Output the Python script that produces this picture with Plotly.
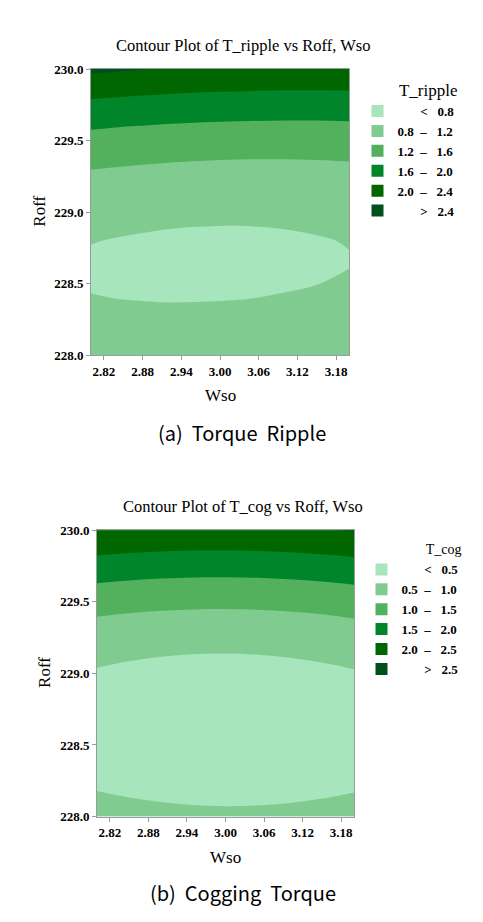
"""Contour plots of T_ripple and T_cog vs Roff, Wso (response surface)."""
import plotly.graph_objects as go

# Wso grid (x) shared by both panels
WSO = [2.80, 2.85, 2.90, 2.95, 3.00, 3.05, 3.10, 3.15, 3.20]

# (a) Torque Ripple: Roff rows, T_ripple values
ROFF_A = [228.0, 228.2, 228.3, 228.4, 228.5, 228.6, 228.7, 228.8, 228.9,
          229.0, 229.2, 229.4, 229.6, 229.8, 230.0]
T_RIPPLE = [
    [1.0888, 1.0818, 1.0805, 1.0851, 1.0954, 1.1114, 1.1333, 1.1609, 1.1943],
    [0.9140, 0.9036, 0.8991, 0.9004, 0.9074, 0.9203, 0.9388, 0.9632, 0.9934],
    [0.8526, 0.8407, 0.8345, 0.8342, 0.8396, 0.8508, 0.8677, 0.8905, 0.9190],
    [0.8087, 0.7951, 0.7873, 0.7853, 0.7891, 0.7987, 0.8140, 0.8351, 0.8620],
    [0.7821, 0.7670, 0.7575, 0.7539, 0.7561, 0.7640, 0.7777, 0.7972, 0.8224],
    [0.7730, 0.7562, 0.7451, 0.7399, 0.7404, 0.7467, 0.7588, 0.7766, 0.8002],
    [0.7813, 0.7628, 0.7501, 0.7433, 0.7421, 0.7468, 0.7572, 0.7734, 0.7954],
    [0.8069, 0.7869, 0.7725, 0.7640, 0.7613, 0.7643, 0.7731, 0.7877, 0.8081],
    [0.8500, 0.8283, 0.8124, 0.8022, 0.7978, 0.7992, 0.8064, 0.8193, 0.8381],
    [0.9105, 0.8871, 0.8696, 0.8578, 0.8518, 0.8515, 0.8571, 0.8684, 0.8855],
    [1.0836, 1.0570, 1.0362, 1.0211, 1.0118, 1.0083, 1.0106, 1.0187, 1.0325],
    [1.3263, 1.2965, 1.2724, 1.2541, 1.2415, 1.2348, 1.2338, 1.2386, 1.2492],
    [1.6387, 1.6055, 1.5782, 1.5566, 1.5408, 1.5308, 1.5265, 1.5281, 1.5354],
    [2.0206, 1.9842, 1.9536, 1.9287, 1.9097, 1.8964, 1.8889, 1.8872, 1.8912],
    [2.4721, 2.4325, 2.3986, 2.3705, 2.3482, 2.3316, 2.3208, 2.3159, 2.3166],
]
LEVELS_A = [0.8, 2.4, 0.4]

# (b) Cogging Torque
ROFF_B = [228.0, 228.2, 228.4, 228.6, 228.8, 229.0, 229.2, 229.4, 229.6,
          229.8, 230.0]
T_COG = [
    [0.7138, 0.6592, 0.6195, 0.5949, 0.5853, 0.5907, 0.6111, 0.6464, 0.6968],
    [0.4746, 0.4207, 0.3817, 0.3578, 0.3489, 0.3550, 0.3761, 0.4121, 0.4632],
    [0.3291, 0.2759, 0.2376, 0.2144, 0.2062, 0.2130, 0.2348, 0.2715, 0.3233],
    [0.2770, 0.2245, 0.1870, 0.1645, 0.1570, 0.1645, 0.1870, 0.2245, 0.2770],
    [0.3188, 0.2670, 0.2301, 0.2083, 0.2015, 0.2097, 0.2329, 0.2710, 0.3242],
    [0.4541, 0.4030, 0.3668, 0.3457, 0.3396, 0.3485, 0.3724, 0.4112, 0.4651],
    [0.6829, 0.6325, 0.5970, 0.5766, 0.5712, 0.5808, 0.6054, 0.6449, 0.6995],
    [1.0054, 0.9557, 0.9209, 0.9012, 0.8965, 0.9068, 0.9321, 0.9723, 1.0276],
    [1.4214, 1.3724, 1.3383, 1.3193, 1.3153, 1.3263, 1.3523, 1.3932, 1.4492],
    [1.9311, 1.8828, 1.8494, 1.8311, 1.8278, 1.8395, 1.8662, 1.9078, 1.9645],
    [2.4960, 2.4528, 2.4202, 2.4026, 2.4000, 2.4124, 2.4398, 2.4822, 2.5250],
]
LEVELS_B = [0.5, 2.5, 0.5]

# light -> dark green bands (Minitab style)
GREENS = ["#a7e5bc", "#80cc90", "#53b05d", "#00852a", "#006600", "#004f1c"]

SERIF = "Liberation Serif"
# page body keeps its default 8px margin -> figure sized to fit the window
OFF = 8
W, H = 483 - 2 * OFF, 922 - 2 * OFF


def fx(px):
    return (px - OFF) / W


def fy(py):
    return 1 - (py - OFF) / H


def band_labels(levels):
    """Minitab-like legend labels: '< a', 'a – b', ..., '> z'."""
    start, end, size = levels
    n = int(round((end - start) / size))
    cuts = [start + i * size for i in range(n + 1)]
    nb = "\u00a0"
    pad = nb * 7
    labels = [f"{pad}<{nb * 3}{cuts[0]:.1f}"]
    for lo, hi in zip(cuts[:-1], cuts[1:]):
        labels.append(f"{lo:.1f}{nb * 2}–{nb * 3}{hi:.1f}")
    labels.append(f"{pad}>{nb * 3}{cuts[-1]:.1f}")
    return labels


def _stepped_scale(colors):
    n = len(colors)
    scale = []
    for i, c in enumerate(colors):
        scale.append([i / n, c])
        scale.append([(i + 1) / n, c])
    return scale


def add_panel(fig, x, y, z, levels, ax, legend_name):
    start, end, size = levels
    xa = "x" if ax == 1 else f"x{ax}"
    ya = "y" if ax == 1 else f"y{ax}"
    fig.add_trace(
        go.Contour(
            x=x,
            y=y,
            z=z,
            autocontour=False,
            contours=dict(start=start, end=end, size=size,
                          coloring="fill", showlines=False),
            colorscale=_stepped_scale(GREENS),
            showscale=False,
            line=dict(width=0, smoothing=1.0),
            xaxis=xa,
            yaxis=ya,
            showlegend=False,
            hoverinfo="skip",
        )
    )
    for lab, col in zip(band_labels(levels), GREENS):
        fig.add_trace(
            go.Scatter(
                x=[None],
                y=[None],
                mode="markers",
                marker=dict(symbol="square", size=12, color=col),
                name=lab,
                legend=legend_name,
                xaxis=xa,
                yaxis=ya,
            )
        )


fig = go.Figure()
add_panel(fig, WSO, ROFF_A, T_RIPPLE, LEVELS_A, 1, "legend")
add_panel(fig, WSO, ROFF_B, T_COG, LEVELS_B, 2, "legend2")

axis_common = dict(
    showline=True,
    linecolor="#9a9a9a",
    linewidth=1,
    mirror=True,
    ticks="outside",
    ticklen=4,
    tickcolor="#9a9a9a",
    showgrid=False,
    zeroline=False,
    tickfont=dict(family=SERIF, size=13, color="black", weight="bold"),
)
x_common = dict(axis_common, range=[2.8, 3.2], tick0=2.82, dtick=0.06,
                tickformat=".2f")
y_common = dict(axis_common, range=[228.0, 230.0], tick0=228.0, dtick=0.5,
                tickformat=".1f")

legend_common = dict(
    xanchor="left",
    yanchor="top",
    bgcolor="rgba(0,0,0,0)",
    font=dict(family=SERIF, size=13, color="black", weight="bold"),
    itemclick=False,
    tracegroupgap=0,
)

annotations = [
    dict(text="Contour Plot of T_ripple vs Roff, Wso", x=fx(242.5), y=fy(39),
         font=dict(family=SERIF, size=16.5)),
    dict(text="Contour Plot of T_cog vs Roff, Wso", x=fx(242.5), y=fy(507.7),
         font=dict(family=SERIF, size=16.5)),
    dict(text="Wso", x=fx(220), y=fy(395), font=dict(family=SERIF, size=17)),
    dict(text="Wso", x=fx(225), y=fy(865), font=dict(family=SERIF, size=17)),
    dict(text="Roff", x=fx(40), y=fy(208), textangle=-90,
         font=dict(family=SERIF, size=17)),
    dict(text="Roff", x=fx(45), y=fy(677), textangle=-90,
         font=dict(family=SERIF, size=17)),
    dict(text="(a)\u00a0 Torque\u00a0 Ripple", x=fx(242), y=fy(433),
         font=dict(family="Noto Sans CJK KR", size=20)),
    dict(text="(b)\u00a0 Cogging\u00a0 Torque", x=fx(242.5), y=fy(900),
         font=dict(family="Noto Sans CJK KR", size=20)),
]
for a in annotations:
    a.update(xref="paper", yref="paper", showarrow=False,
             xanchor="center", yanchor="middle")
    a["font"].setdefault("color", "black")

fig.update_layout(
    width=W,
    height=H,
    margin=dict(l=0, r=0, t=0, b=0),
    paper_bgcolor="white",
    plot_bgcolor="white",
    xaxis=dict(x_common, domain=[fx(91), fx(349)], anchor="y"),
    yaxis=dict(y_common, domain=[fy(354), fy(63)], anchor="x"),
    xaxis2=dict(x_common, domain=[fx(97), fx(354)], anchor="y2"),
    yaxis2=dict(y_common, domain=[fy(823), fy(532)], anchor="x2"),
    legend=dict(legend_common, x=fx(357.5), y=fy(68),
                title=dict(text="T_ripple", side="top right",
                           font=dict(family=SERIF, size=17, weight="normal"))),
    legend2=dict(legend_common, x=fx(361.5), y=fy(538),
                 title=dict(text="T_cog", side="top right",
                            font=dict(family=SERIF, size=14, weight="normal"))),
    annotations=annotations,
)

fig.write_html("out.html")
